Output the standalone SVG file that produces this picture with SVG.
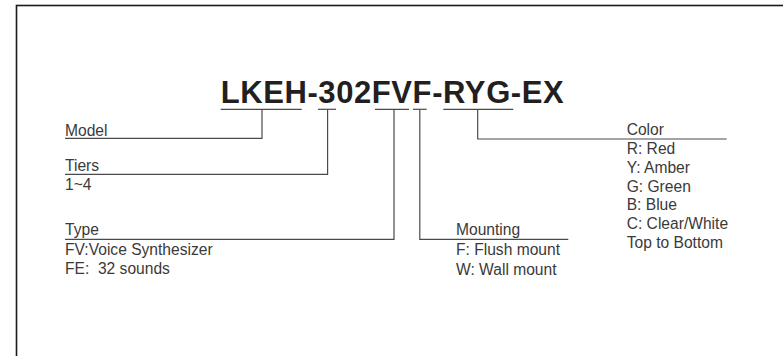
<svg xmlns="http://www.w3.org/2000/svg" width="783" height="356" viewBox="0 0 783 356">
<style>
.lbl{font-family:"Liberation Sans",Arial,sans-serif;font-size:15.6px;fill:#3a3a3a;white-space:pre}
.ttl{font-family:"Liberation Sans",Arial,sans-serif;font-size:31px;font-weight:bold;fill:#231f20}
.ln{stroke:#4a4a4a;stroke-width:1.2;fill:none}
</style>
<rect x="0" y="0" width="783" height="356" fill="#ffffff"/>
<rect x="16.5" y="5.5" width="800" height="400" fill="none" stroke="#1a1a1a" stroke-width="1.6"/>
<g id="title">
<text class="ttl" x="220.7" y="103.3" textLength="343" lengthAdjust="spacing">LKEH-302FVF-RYG-EX</text>
</g>
<g id="connectors" class="ln">
<line x1="220.7" y1="109.3" x2="301.7" y2="109.3"/>
<line x1="318" y1="109.3" x2="336" y2="109.3"/>
<line x1="375" y1="109.3" x2="409" y2="109.3"/>
<line x1="413" y1="109.3" x2="426.7" y2="109.3"/>
<line x1="443.3" y1="109.3" x2="513.3" y2="109.3"/>
<polyline points="262,109.3 262,138.3 65,138.3"/>
<polyline points="327.6,109.3 327.6,174.3 65,174.3"/>
<polyline points="394,109.3 394,239.3 65,239.3"/>
<polyline points="419.8,109.3 419.8,239.3 568.3,239.3"/>
<polyline points="477.7,109.3 477.7,139 726.7,139"/>
</g>
<g id="model">
<text class="lbl" x="65" y="135.5">Model</text>
</g>
<g id="tiers">
<text class="lbl" x="65" y="171">Tiers</text>
<text class="lbl" x="65" y="189.5">1~4</text>
</g>
<g id="type">
<text class="lbl" x="65" y="235">Type</text>
<text class="lbl" x="65" y="254.5">FV:Voice Synthesizer</text>
<text class="lbl" x="65" y="273.5" xml:space="preserve">FE:  32 sounds</text>
</g>
<g id="mounting">
<text class="lbl" x="456" y="235">Mounting</text>
<text class="lbl" x="456" y="255">F: Flush mount</text>
<text class="lbl" x="456" y="275">W: Wall mount</text>
</g>
<g id="color">
<text class="lbl" x="626.7" y="135">Color</text>
<text class="lbl" x="626.7" y="154.3">R: Red</text>
<text class="lbl" x="626.7" y="173">Y: Amber</text>
<text class="lbl" x="626.7" y="191.7">G: Green</text>
<text class="lbl" x="626.7" y="210.3">B: Blue</text>
<text class="lbl" x="626.7" y="229">C: Clear/White</text>
<text class="lbl" x="626.7" y="247.7">Top to Bottom</text>
</g>
</svg>
